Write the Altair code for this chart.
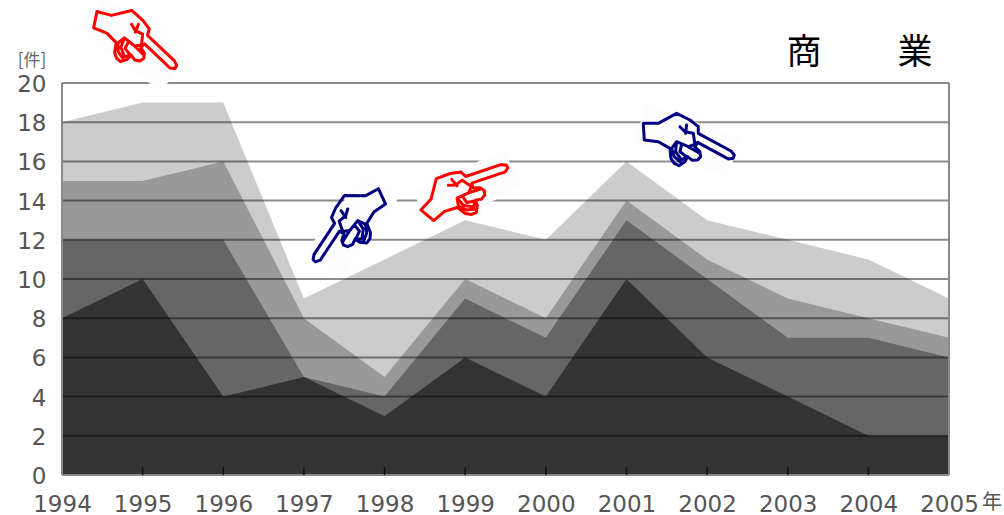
import altair as alt
import pandas as pd

# Annual case counts, overlapping (not stacked) area series drawn back to front
years = [1994, 1995, 1996, 1997, 1998, 1999, 2000, 2001, 2002, 2003, 2004, 2005]
series_a = [18, 19, 19, 9, 11, 13, 12, 16, 13, 12, 11, 9]
series_b = [15, 15, 16, 8, 5, 10, 8, 14, 11, 9, 8, 7]
series_c = [12, 12, 12, 5, 4, 9, 7, 13, 10, 7, 7, 6]
series_d = [8, 10, 4, 5, 3, 6, 4, 10, 6, 4, 2, 2]
series_colors = ["#cccccc", "#999999", "#666666", "#333333"]
y_ticks = list(range(0, 21, 2))

# Pointing-hand callouts: position in data units, colour, rotation, mirrored or not
hand_year = [1994.9, 1997.55, 1998.98, 2001.75]
hand_value = [22.2, 12.76, 14.54, 17.04]
hand_color = ["#ff0000", "#000080", "#ff0000", "#000080"]
hand_angle = [15, 332, 313, 0]
hand_mirror = [False, True, False, False]
patch_year = [1994.89, 1997.6, 1999.03, 2001.75]
patch_value = [21.94, 12.76, 14.54, 17.04]
patch_angle = [37, 127, 334, 20]

# Hand glyph outline, in a 3x drawing grid centred on (156, 108)
GLYPH = [
    [(25, 55), (70, 55), (125, 25), (165, 45), (190, 65), (190, 85), (288, 138), (298, 150),
     (295, 160), (280, 162), (262, 152), (188, 112), (180, 125), (195, 140), (197, 155),
     (188, 165), (172, 166), (158, 155), (150, 170), (132, 182), (118, 175), (108, 160),
     (105, 130), (70, 110), (28, 105), (25, 55)],
    [(135, 65), (150, 80), (175, 85), (180, 118), (160, 125), (125, 110), (110, 130), (118, 155), (135, 170)],
    [(155, 60), (152, 85)],
    [(125, 110), (122, 140), (140, 165), (155, 155)],
    [(140, 118), (135, 140), (155, 155)],
    [(160, 125), (195, 145)],
]


def glyph_path(mirror):
    sign = -1 if mirror else 1
    parts = []
    for stroke in GLYPH:
        pts = [f"{sign * (x - 156) / 300:.4f},{(y - 108) / 300:.4f}" for x, y in stroke]
        parts.append("M" + "L".join(pts))
    return "".join(parts)


PATCH = "M-0.5,-0.21L0.5,-0.21L0.5,0.21L-0.5,0.21Z"
GLYPH_SIZE = 40000

area_frames = [
    pd.DataFrame({"year": years, "count": vals})
    for vals in (series_a, series_b, series_c, series_d)
]

x_scale = alt.Scale(domain=[1994, 2005], nice=False, zero=False)
y_scale = alt.Scale(domain=[0, 20], nice=False)
label_font = "DejaVu Sans"

x_axis = alt.Axis(
    values=years, format="d", title=None, grid=False, domain=False, ticks=False,
    labelFont=label_font, labelFontSize=23, labelColor="#555555", labelPadding=18,
    labelFlush=False, labelOverlap=False, labelAngle=0,
)
y_axis = alt.Axis(
    values=y_ticks, title=None, grid=False, domain=False, ticks=False,
    labelFont=label_font, labelFontSize=23, labelColor="#555555", labelPadding=16,
    labelOverlap=False, labelFlush=False, labelOffset=1.5,
)

areas = [
    alt.Chart(frame)
    .mark_area(color=color, opacity=1, line=False, clip=False)
    .encode(
        x=alt.X("year:Q", scale=x_scale, axis=x_axis),
        y=alt.Y("count:Q", scale=y_scale, axis=y_axis, stack=None),
    )
    for frame, color in zip(area_frames, series_colors)
]

grid = (
    alt.Chart(pd.DataFrame({"v": [t for t in y_ticks if 0 < t < 20]}))
    .mark_rule(color="#000000", opacity=0.45, strokeWidth=2)
    .encode(y=alt.Y("v:Q", scale=y_scale, axis=y_axis))
)
frame_h = (
    alt.Chart(pd.DataFrame({"v": [0, 20]}))
    .mark_rule(color="#8a8a8a", strokeWidth=2)
    .encode(y=alt.Y("v:Q", scale=y_scale, axis=y_axis))
)
frame_v = (
    alt.Chart(pd.DataFrame({"v": [1994, 2005]}))
    .mark_rule(color="#8a8a8a", strokeWidth=2)
    .encode(x=alt.X("v:Q", scale=x_scale, axis=x_axis))
)
year_ticks = (
    alt.Chart(pd.DataFrame({"v": years[1:-1], "lo": 0.0, "hi": 0.4}))
    .mark_rule(color="#111111", strokeWidth=1.5)
    .encode(
        x=alt.X("v:Q", scale=x_scale, axis=x_axis),
        y=alt.Y("lo:Q", scale=y_scale, axis=y_axis),
        y2="hi:Q",
    )
)

patches = (
    alt.Chart(pd.DataFrame({"year": patch_year, "value": patch_value, "rot": patch_angle}))
    .mark_point(shape=PATCH, filled=True, color="#fdfdfd", opacity=1, strokeWidth=0)
    .encode(
        x=alt.X("year:Q", scale=x_scale, axis=x_axis),
        y=alt.Y("value:Q", scale=y_scale, axis=y_axis),
        angle=alt.Angle("rot:Q", scale=None),
        size=alt.value(GLYPH_SIZE),
    )
)

hands = [
    alt.Chart(pd.DataFrame({"year": [yr], "value": [val], "rot": [rot]}))
    .mark_point(shape=glyph_path(mir), filled=False, stroke=col, strokeWidth=3,
                opacity=1, strokeJoin="round", strokeCap="round")
    .encode(
        x=alt.X("year:Q", scale=x_scale, axis=x_axis),
        y=alt.Y("value:Q", scale=y_scale, axis=y_axis),
        angle=alt.Angle("rot:Q", scale=None),
        size=alt.value(GLYPH_SIZE),
    )
    for yr, val, rot, col, mir in zip(hand_year, hand_value, hand_angle, hand_color, hand_mirror)
]


def note(text, px, py, size, color, font="Noto Sans CJK JP"):
    return (
        alt.Chart(pd.DataFrame({"t": [text]}))
        .mark_text(font=font, fontSize=size, color=color, align="center", baseline="middle")
        .encode(text="t:N", x=alt.value(px), y=alt.value(py))
    )


notes = [
    note("商", 742, -30, 35, "#000000"),
    note("業", 853, -30, 35, "#000000"),
    note("[件]", -30, -22, 17, "#666666"),
    note("年", 930, 420, 20, "#555555"),
]

chart = (
    alt.layer(*areas, frame_h, grid, frame_v, year_ticks, patches, *hands, *notes)
    .properties(
        width=887,
        height=392,
        padding={"left": 62, "top": 83, "right": 55, "bottom": 40},
        autosize=alt.AutoSizeParams(type="none"),
        background="#ffffff",
    )
    .configure_view(stroke=None)
)

chart.save("out.html", embed_options={"renderer": "svg", "actions": False})
